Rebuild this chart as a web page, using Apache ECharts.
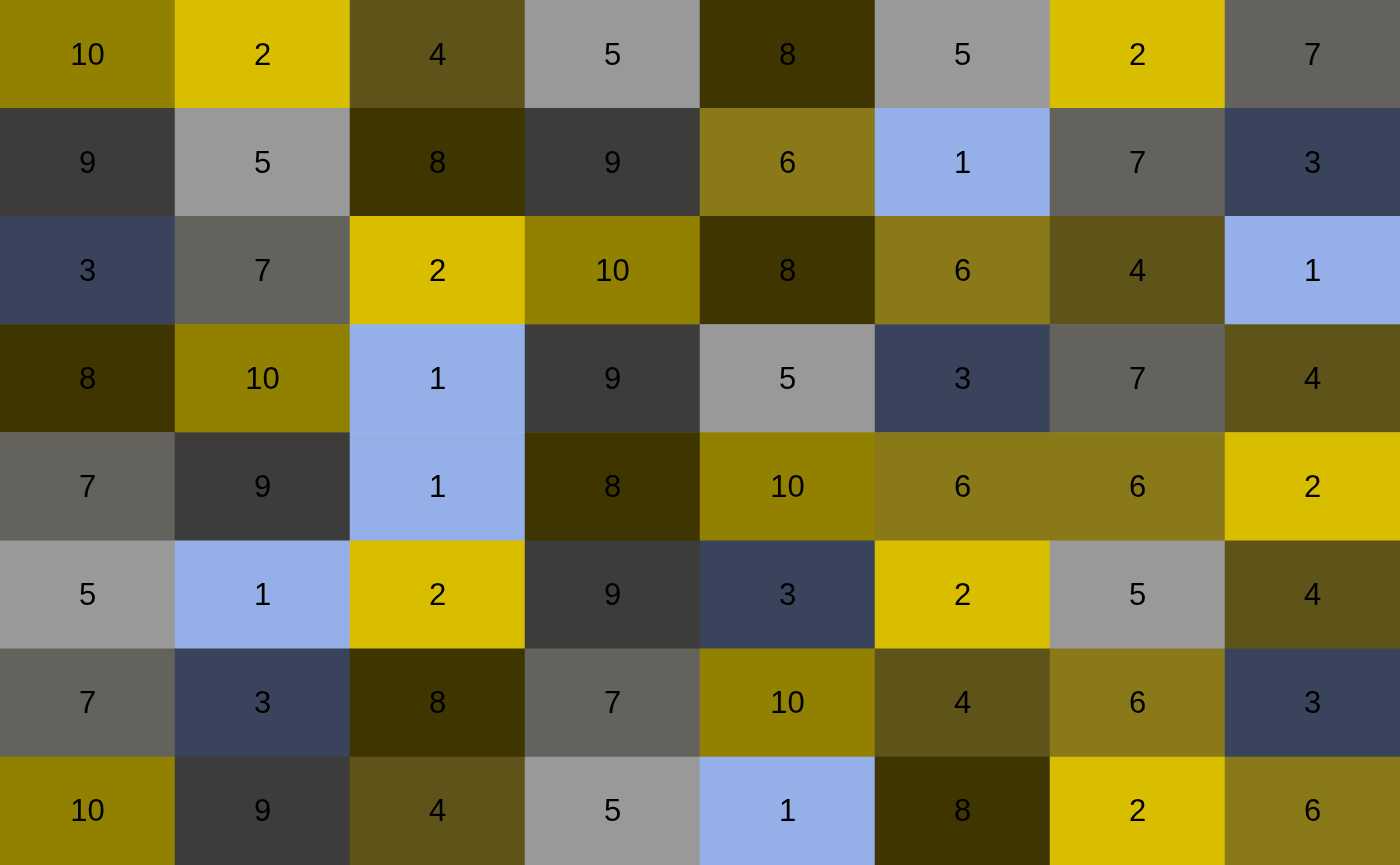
<!DOCTYPE html>
<html><head><meta charset="utf-8">
<script src="https://cdn.jsdelivr.net/npm/echarts@6/dist/echarts.min.js"></script>
<style>html,body{margin:0;padding:0;background:#fff}#c{width:1400px;height:865px}</style>
</head><body><div id="c"></div>
<script>
const cols = ['c1','c2','c3','c4','c5','c6','c7','c8'];
const rows = ['r1','r2','r3','r4','r5','r6','r7','r8'];
const row1 = [10,2,4,5,8,5,2,7];
const row2 = [9,5,8,9,6,1,7,3];
const row3 = [3,7,2,10,8,6,4,1];
const row4 = [8,10,1,9,5,3,7,4];
const row5 = [7,9,1,8,10,6,6,2];
const row6 = [5,1,2,9,3,2,5,4];
const row7 = [7,3,8,7,10,4,6,3];
const row8 = [10,9,4,5,1,8,2,6];
const levels = [1,2,3,4,5,6,7,8,9,10];
const palette = ['#95AFE8','#D9BE00','#39445C','#5E5318','#999999','#8A7918','#63625C','#3E3500','#3D3C3A','#928000'];
const grid = [row1,row2,row3,row4,row5,row6,row7,row8];
const data = [];
grid.forEach((r,i)=>r.forEach((v,j)=>data.push([j,i,v])));
const chart = echarts.init(document.getElementById('c'));
chart.setOption({
  animation:false,
  grid:{left:0,right:0,top:0,bottom:0},
  xAxis:{type:'category',data:cols,show:false},
  yAxis:{type:'category',data:rows,inverse:true,show:false},
  visualMap:{type:'piecewise',show:false,dimension:2,
    pieces:levels.map((l,k)=>({value:l,color:palette[k]}))},
  series:[{type:'heatmap',data:data,
    label:{show:true,color:'#000',fontSize:31,offset:[0,2],fontFamily:'Liberation Sans, Arial, sans-serif'},
    itemStyle:{borderWidth:0},
    emphasis:{disabled:true}}]
});
</script></body></html>
